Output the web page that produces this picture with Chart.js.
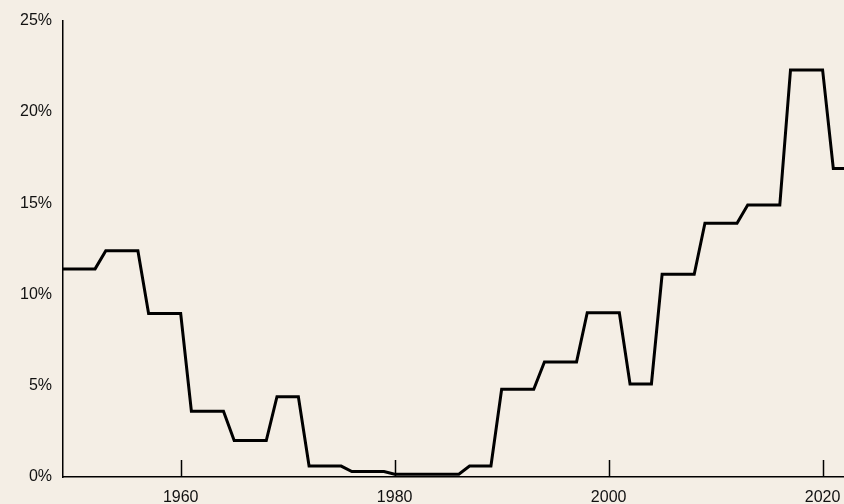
<!DOCTYPE html>
<html>
<head>
<meta charset="utf-8">
<script src="https://cdn.jsdelivr.net/npm/chart.js@4"></script>
<style>
  html, body { margin: 0; padding: 0; background: #f4eee5; }
  #wrap { width: 844px; height: 504px; position: relative; }
</style>
</head>
<body>
<div id="wrap"><canvas id="chart"></canvas></div>
<script>
const years = [];
for (let y = 1949; y <= 2022; y++) years.push(y);

// value per year (%)
const rates = [
  11.4, 11.4, 11.4, 11.4,          // 1949-1952
  12.4, 12.4, 12.4, 12.4,          // 1953-1956
  8.95, 8.95, 8.95, 8.95,          // 1957-1960
  3.6, 3.6, 3.6, 3.6,              // 1961-1964
  2.0, 2.0, 2.0, 2.0,              // 1965-1968
  4.4, 4.4, 4.4,                   // 1969-1971
  0.6, 0.6, 0.6, 0.6,              // 1972-1975
  0.3, 0.3, 0.3, 0.3,              // 1976-1979
  0.15, 0.15, 0.15, 0.15, 0.15, 0.15, 0.15, // 1980-1986
  0.6, 0.6, 0.6,                   // 1987-1989
  4.8, 4.8, 4.8, 4.8,              // 1990-1993
  6.3, 6.3, 6.3, 6.3,              // 1994-1997
  9.0, 9.0, 9.0, 9.0,              // 1998-2001
  5.1, 5.1, 5.1,                   // 2002-2004
  11.1, 11.1, 11.1, 11.1,          // 2005-2008
  13.9, 13.9, 13.9, 13.9,          // 2009-2012
  14.9, 14.9, 14.9, 14.9,          // 2013-2016
  22.3, 22.3, 22.3, 22.3,          // 2017-2020
  16.9, 16.9                       // 2021-2022
];

const xTicks = [1960, 1980, 2000, 2020];
const yTicks = [0, 5, 10, 15, 20, 25];

const innerTicks = {
  id: 'innerTicks',
  afterDraw(chart) {
    const { ctx, scales: { x }, chartArea: { bottom } } = chart;
    ctx.save();
    ctx.strokeStyle = '#000';
    ctx.lineWidth = 1.5;
    xTicks.forEach(t => {
      const px = Math.round(x.getPixelForValue(t)) + 0.5;
      ctx.beginPath();
      ctx.moveTo(px, bottom);
      ctx.lineTo(px, bottom - 17);
      ctx.stroke();
    });
    ctx.restore();
  }
};

Chart.defaults.font.family = '"Liberation Sans", Arial, sans-serif';
Chart.defaults.font.size = 16;
Chart.defaults.color = '#111';

new Chart(document.getElementById('chart'), {
  type: 'line',
  data: {
    datasets: [{
      data: years.map((y, i) => ({ x: y, y: rates[i] })),
      borderColor: '#000',
      borderWidth: 3,
      borderJoinStyle: 'miter',
      pointRadius: 0,
      tension: 0,
      fill: false
    }]
  },
  options: {
    responsive: true,
    maintainAspectRatio: false,
    animation: false,
    layout: { padding: { top: 11, right: 0, left: 0, bottom: 0 } },
    plugins: { legend: { display: false }, tooltip: { enabled: false } },
    scales: {
      x: {
        type: 'linear',
        min: 1949,
        max: 2022,
        grid: { display: false, drawTicks: false },
        border: { display: true, color: '#000', width: 1.5 },
        afterBuildTicks(scale) { scale.ticks = xTicks.map(v => ({ value: v })); },
        afterFit(scale) { scale.height = 27; scale.paddingRight = 0; scale.paddingLeft = 0; },
        ticks: { padding: 11, maxRotation: 0, autoSkip: false, callback: v => String(v) }
      },
      y: {
        min: 0,
        max: 25,
        grid: { display: false, drawTicks: false },
        border: { display: true, color: '#000', width: 1.5 },
        afterBuildTicks(scale) { scale.ticks = yTicks.map(v => ({ value: v })); },
        afterFit(scale) { scale.width = 63; },
        ticks: { padding: 11, callback: v => v + '%' }
      }
    }
  },
  plugins: [innerTicks]
});
</script>
</body>
</html>
